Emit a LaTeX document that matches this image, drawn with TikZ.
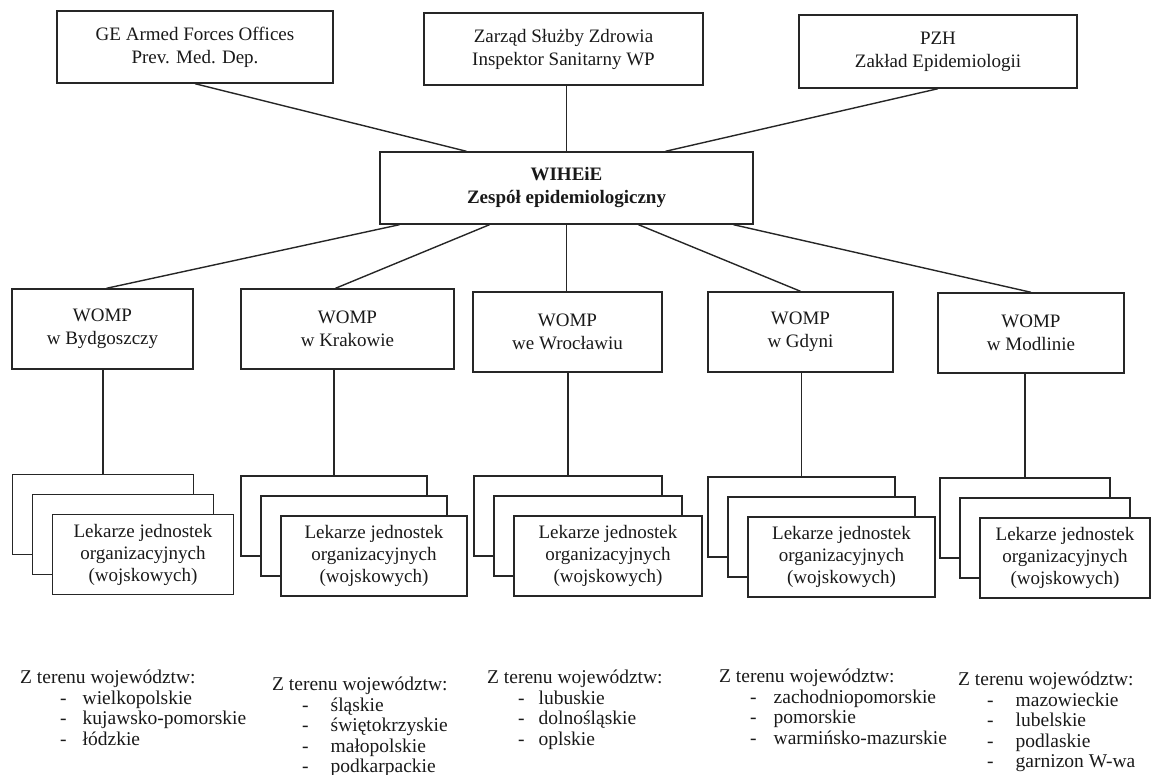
\documentclass[tikz,border=0pt]{standalone}
\usepackage{fontspec}
\setmainfont{Liberation Serif}
\usepackage{tikz}

\tikzset{
	box/.style={draw=black!85, line width=1.4pt, align=center, inner sep=2pt, text=black!90, font=\fontsize{19}{23}\selectfont},
	lekbox/.style={box, fill=white, minimum height=80pt, font=\fontsize{19}{22}\selectfont},
	listtext/.style={align=left, inner sep=0pt, text=black!90, font=\fontsize{19.5}{20.5}\selectfont},
	link/.style={draw=black!85, line width=1.4pt}
}

\begin{document}
\begin{tikzpicture}[x=1pt,y=-1pt]
		\useasboundingbox (0,0) rectangle (1152,775);
		
		\newcommand{\lekstack}[4]{ % #1: name, #2: x-coordinate, #3: y-coordinate (back box), #4: width
			\node[lekbox, minimum width=#4pt] (#1) at (#2,#3) {};
			\node[lekbox, minimum width=#4pt] (#1m) at (#2+20,#3+20) {};
			\node[lekbox, minimum width=#4pt] (#1f) at (#2+40,#3+40) {Lekarze jednostek\\organizacyjnych\\(wojskowych)};
		}
		\newcommand{\wojitem}[3]{\hspace*{#1pt}-\hspace*{#2pt}#3} % #1: dash indent, #2: gap, #3: text
		
		%top level
		\node[box, minimum width=276pt, minimum height=72pt] (ge) at (195,47) {GE Armed Forces Offices\\Prev. Med. Dep.};
		\node[box, minimum width=279pt, minimum height=72pt] (zarzad) at (563.5,49) {Zarząd Służby Zdrowia\\Inspektor Sanitarny WP};
		\node[box, minimum width=278pt, minimum height=73pt] (pzh) at (938,51.5) {PZH\\Zakład Epidemiologii};
		
		\node[box, minimum width=373pt, minimum height=72pt, font=\bfseries\fontsize{19}{23}\selectfont] (wiheie) at (566.5,188) {WIHEiE\\Zespół epidemiologiczny};
		
		\draw[link] (ge.south) -- ([xshift=-100pt]wiheie.north);
		\draw[link] (wiheie.north) -- (wiheie.north |- zarzad.south);
		\draw[link] (pzh.south) -- ([xshift=99pt]wiheie.north);
		
		%WOMP boxes
		\node[box, minimum width=181pt, minimum height=80pt] (byd) at (102.5,329) {WOMP\\w Bydgoszczy};
		\node[box, minimum width=213pt, minimum height=80pt] (krk) at (347.5,329) {WOMP\\w Krakowie};
		\node[box, minimum width=189pt, minimum height=80pt] (wro) at (567.5,332) {WOMP\\we Wrocławiu};
		\node[box, minimum width=185pt, minimum height=80pt] (gdy) at (800.5,332) {WOMP\\w Gdyni};
		\node[box, minimum width=186pt, minimum height=80pt] (mod) at (1031,333) {WOMP\\w Modlinie};
		
		\draw[link] ([xshift=-167pt]wiheie.south) -- ([xshift=4pt]byd.north);
		\draw[link] ([xshift=-77pt]wiheie.south) -- ([xshift=-12pt]krk.north);
		\draw[link] (wiheie.south) -- (wiheie.south |- wro.north);
		\draw[link] ([xshift=72pt]wiheie.south) -- (gdy.north);
		\draw[link] ([xshift=167pt]wiheie.south) -- (mod.north);
		
		%stacked boxes
		\lekstack{bydlek}{103}{514.5}{181}
		\lekstack{krklek}{334}{516}{186}
		\lekstack{wrolek}{568}{516}{188}
		\lekstack{gdylek}{801.5}{517}{187}
		\lekstack{modlek}{1025}{518}{170}
		
		\foreach \w in {byd,krk,wro,gdy,mod}
			\draw[link] (\w lek.north) -- (\w lek.north |- \w.south);
		
		%lists of voivodeships
		\node[listtext, anchor=north west] (woj1) at (20,670) {Z terenu województw:\\
			\wojitem{40}{16}{wielkopolskie}\\
			\wojitem{40}{16}{kujawsko-pomorskie}\\
			\wojitem{40}{16}{łódzkie}};
		\node[listtext, anchor=north west] (woj2) at (272,677) {Z terenu województw:\\
			\wojitem{30}{22}{śląskie}\\
			\wojitem{30}{22}{świętokrzyskie}\\
			\wojitem{30}{22}{małopolskie}\\
			\wojitem{30}{22}{podkarpackie}};
		\node[listtext, anchor=north west] (woj3) at (487,670) {Z terenu województw:\\
			\wojitem{31}{14}{lubuskie}\\
			\wojitem{31}{14}{dolnośląskie}\\
			\wojitem{31}{14}{oplskie}};
		\node[listtext, anchor=north west] (woj4) at (719,669) {Z terenu województw:\\
			\wojitem{31}{17}{zachodniopomorskie}\\
			\wojitem{31}{17}{pomorskie}\\
			\wojitem{31}{17}{warmińsko-mazurskie}};
		\node[listtext, anchor=north west] (woj5) at (958,672) {Z terenu województw:\\
			\wojitem{29}{22}{mazowieckie}\\
			\wojitem{29}{22}{lubelskie}\\
			\wojitem{29}{22}{podlaskie}\\
			\wojitem{29}{22}{garnizon W-wa}};
		
	\end{tikzpicture}
\end{document}
